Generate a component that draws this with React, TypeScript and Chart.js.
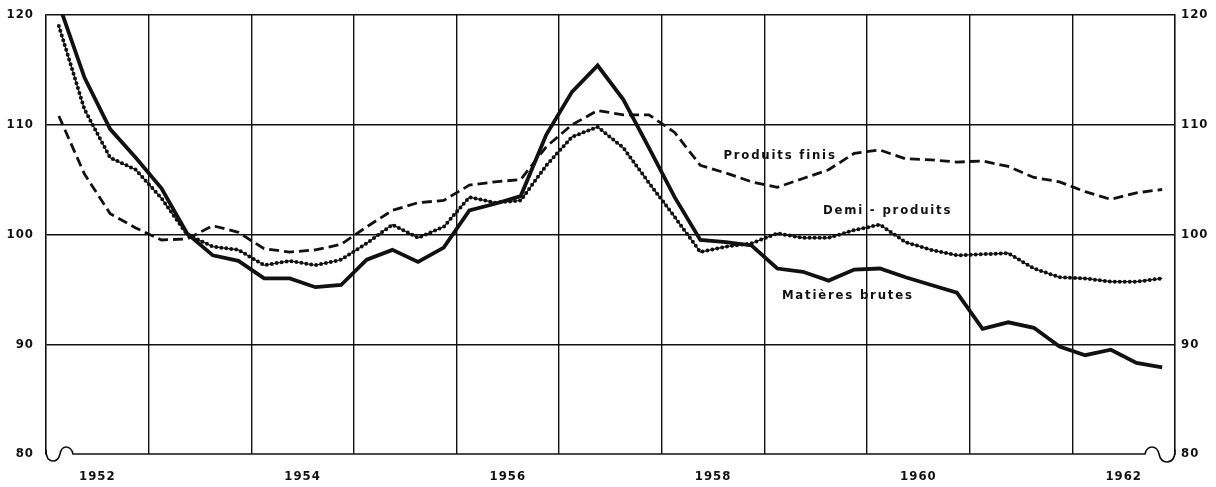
import React, { useEffect, useRef } from 'react';
import { Chart, registerables } from 'chart.js';

Chart.register(...registerables);

// ---- data (quarterly indices, 1952 Q1 .. 1962 Q4) ----
const years = [1952, 1953, 1954, 1955, 1956, 1957, 1958, 1959, 1960, 1961, 1962];
const quarters = [1, 2, 3, 4];

const matieresBrutes = [
  121.0, 114.3, 109.6, 107.0,
  104.2, 100.1, 98.1, 97.6,
  96.0, 96.0, 95.2, 95.4,
  97.7, 98.6, 97.5, 98.8,
  102.2, 102.8, 103.5, 109.1,
  113.0, 115.4, 112.3, 107.9,
  103.4, 99.5, 99.3, 99.0,
  96.9, 96.6, 95.8, 96.8,
  96.9, 96.1, 95.4, 94.7,
  91.4, 92.0, 91.5, 89.8,
  89.0, 89.5, 88.3, 87.9,
];

const demiProduits = [
  119.0, 111.4, 107.0, 105.9,
  103.3, 100.0, 98.9, 98.6,
  97.2, 97.6, 97.2, 97.7,
  99.2, 100.9, 99.7, 100.7,
  103.4, 102.9, 103.1, 106.3,
  108.9, 109.8, 107.9, 104.7,
  101.6, 98.4, 98.9, 99.2,
  100.1, 99.7, 99.7, 100.4,
  100.9, 99.3, 98.6, 98.1,
  98.2, 98.3, 96.9, 96.1,
  96.0, 95.7, 95.7, 96.0,
];

const produitsFinis = [
  110.8, 105.5, 101.9, 100.6,
  99.5, 99.6, 100.8, 100.2,
  98.7, 98.4, 98.6, 99.1,
  100.7, 102.2, 102.9, 103.1,
  104.5, 104.8, 105.0, 108.0,
  110.0, 111.3, 110.9, 110.9,
  109.3, 106.3, 105.6, 104.8,
  104.3, 105.1, 105.9, 107.4,
  107.7, 106.9, 106.8, 106.6,
  106.7, 106.2, 105.2, 104.8,
  103.9, 103.2, 103.8, 104.1,
];

const yMin = 80;
const yMax = 120;
const yStep = 10;
const xLabelYears = [1952, 1954, 1956, 1958, 1960, 1962];

const seriesLabels = ['Produits finis', 'Demi - produits', 'Matières brutes'];
// label anchor positions in data units [x (year), y (index)]
const labelAnchors: [number, number][] = [
  [1958.6, 107.2],
  [1959.57, 102.2],
  [1959.17, 94.4],
];

const INK = '#111111';
const FONT_FAMILY = '"DejaVu Sans Condensed", "DejaVu Sans", sans-serif';

const quarterX = years.flatMap((y) => quarters.map((q) => y + (q - 0.5) / 4));
const toPoints = (vals: number[]) => vals.map((v, i) => ({ x: quarterX[i], y: v }));

const decorPlugin = {
  id: 'decor',
  beforeDraw(chart: any) {
    chart.ctx.letterSpacing = '1px';
  },
  afterDraw(chart: any) {
    const { ctx, chartArea: a, scales } = chart;
    ctx.save();
    // bottom axis line with the break marks at both ends
    const L = a.left;
    const R = a.right;
    const B = a.bottom;
    ctx.strokeStyle = INK;
    ctx.lineWidth = 1.6;
    ctx.lineCap = 'round';
    ctx.beginPath();
    ctx.moveTo(L, B - 4);
    ctx.bezierCurveTo(L, B + 4, L + 3, B + 7, L + 7, B + 7);
    ctx.bezierCurveTo(L + 11, B + 7, L + 13, B + 4, L + 14, B);
    ctx.bezierCurveTo(L + 15, B - 5, L + 17, B - 7, L + 20, B - 7);
    ctx.bezierCurveTo(L + 24, B - 7, L + 26, B - 4, L + 27, B);
    ctx.lineTo(R - 30, B);
    ctx.bezierCurveTo(R - 29, B - 4, R - 27, B - 7, R - 23, B - 7);
    ctx.bezierCurveTo(R - 19, B - 7, R - 17, B - 4, R - 16, B);
    ctx.bezierCurveTo(R - 15, B + 5, R - 12, B + 8, R - 8, B + 8);
    ctx.bezierCurveTo(R - 3, B + 8, R, B + 4, R, B - 4);
    ctx.stroke();

    // series labels
    ctx.fillStyle = INK;
    ctx.font = `bold 13px ${FONT_FAMILY}`;
    (ctx as any).letterSpacing = '1.8px';
    ctx.textBaseline = 'middle';
    ctx.textAlign = 'left';
    seriesLabels.forEach((t, i) => {
      const [xv, yv] = labelAnchors[i];
      ctx.fillText(t, scales.x.getPixelForValue(xv), scales.y.getPixelForValue(yv));
    });
    ctx.restore();
    (ctx as any).letterSpacing = '0px';
  },
};

export default function App() {
  const canvasRef = useRef<HTMLCanvasElement | null>(null);

  useEffect(() => {
    document.body.style.margin = '0';
    const canvas = canvasRef.current;
    if (!canvas) return;

    const tickFont = { family: FONT_FAMILY, size: 13, weight: 'bold' as const };

    const chart = new Chart(canvas, {
      type: 'line',
      data: {
        datasets: [
          {
            label: seriesLabels[2],
            data: toPoints(matieresBrutes),
            borderColor: INK,
            borderWidth: 3.8,
            tension: 0,
            pointRadius: 0,
            borderJoinStyle: 'miter',
          },
          {
            label: seriesLabels[0],
            data: toPoints(produitsFinis),
            borderColor: INK,
            borderWidth: 2.8,
            borderDash: [10, 5],
            tension: 0,
            pointRadius: 0,
          },
          {
            label: seriesLabels[1],
            data: toPoints(demiProduits),
            borderColor: INK,
            borderWidth: 1.2,
            tension: 0,
            pointRadius: 0,
          },
          {
            label: seriesLabels[1] + ' (points)',
            data: toPoints(demiProduits),
            borderColor: INK,
            borderWidth: 4,
            borderDash: [0, 5],
            borderCapStyle: 'round',
            tension: 0,
            pointRadius: 0,
          },
        ],
      },
      options: {
        animation: false,
        responsive: false,
        maintainAspectRatio: false,
        layout: { padding: { top: 15, left: 0, right: 0, bottom: 0 } },
        plugins: {
          legend: { display: false },
          tooltip: { enabled: false },
        },
        scales: {
          x: {
            type: 'linear',
            min: years[0],
            max: years[years.length - 1] + 1,
            afterBuildTicks: (scale: any) => {
              const t = [];
              for (let y = years[0]; y <= years[years.length - 1] + 1; y++) t.push({ value: y });
              scale.ticks = t;
            },
            afterFit: (scale: any) => {
              scale.height = 33;
              scale.paddingLeft = 0;
              scale.paddingRight = 0;
            },
            grid: {
              drawTicks: false,
              color: (ctx: any) =>
                ctx.tick && (ctx.tick.value === years[0] || ctx.tick.value === years[years.length - 1] + 1)
                  ? 'rgba(0,0,0,0)'
                  : INK,
              lineWidth: 1.4,
            },
            border: { display: false },
            ticks: {
              autoSkip: false,
              maxRotation: 0,
              padding: 15,
              labelOffset: 51.3,
              color: INK,
              font: tickFont,
              callback: (v: any) => (xLabelYears.includes(Number(v)) ? String(v) : ''),
            },
          },
          y: {
            type: 'linear',
            position: 'left',
            min: yMin,
            max: yMax,
            afterFit: (scale: any) => {
              scale.width = 46;
              scale.paddingTop = 0;
              scale.paddingBottom = 0;
            },
            grid: {
              drawTicks: false,
              color: (ctx: any) => (ctx.tick && ctx.tick.value === yMin ? 'rgba(0,0,0,0)' : INK),
              lineWidth: 1.4,
            },
            border: { display: true, color: INK, width: 1.6 },
            ticks: {
              stepSize: yStep,
              padding: 12,
              color: INK,
              font: tickFont,
            },
          },
          y2: {
            type: 'linear',
            position: 'right',
            min: yMin,
            max: yMax,
            afterFit: (scale: any) => {
              scale.width = 41;
              scale.paddingTop = 0;
              scale.paddingBottom = 0;
            },
            grid: { drawTicks: false, drawOnChartArea: false },
            border: { display: true, color: INK, width: 1.6 },
            ticks: {
              stepSize: yStep,
              padding: 6,
              color: INK,
              font: tickFont,
            },
          },
        },
      },
      plugins: [decorPlugin],
    } as any);

    return () => {
      chart.destroy();
    };
  }, []);

  return (
    <div style={{ width: 1216, height: 487, background: '#fff' }}>
      <canvas ref={canvasRef} width={1216} height={487} style={{ display: 'block' }} />
    </div>
  );
}
